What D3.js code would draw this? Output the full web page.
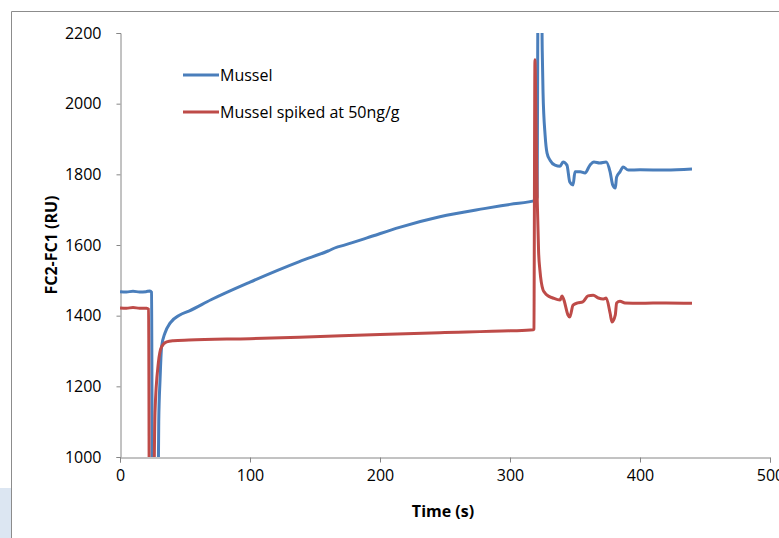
<!DOCTYPE html>
<html>
<head>
<meta charset="utf-8">
<script src="https://cdn.jsdelivr.net/npm/d3@7.9.0/dist/d3.min.js"></script>
<style>
  body { margin: 0; background: #fff; }
  svg { display: block; font-family: 'Open Sans', sans-serif; }
</style>
</head>
<body>
<svg id="chart" width="779" height="538"></svg>
<script>
// ====== DATA ======

const musselTime = [0, 5, 10, 15, 20, 23, 24.3, 25, 28.8, 29.8, 30.8, 32, 34.6, 38.5, 46, 53, 70, 100,
  138, 160, 167, 169, 190, 215, 246, 280, 300, 320, 320.8, 321.8, 323.8, 324.8, 325.4, 327, 328.5,
  330.8, 334.6, 338.5, 340.8, 343.8, 346, 348.5, 350, 354, 357.7, 361.5, 364.6, 369, 374, 377, 379,
  381, 382, 384.6, 387, 391, 400, 420, 440];
const musselValue = [1468, 1467, 1469, 1467, 1468, 1470, 1466, 700, 700, 1100, 1218, 1312, 1351, 1379,
  1402, 1413, 1445, 1495, 1553, 1583, 1594, 1596, 1620, 1650, 1680, 1703, 1715, 1727, 1735, 2500,
  2500, 2150, 2033, 1911, 1860, 1840, 1826, 1823, 1835, 1826, 1778, 1770, 1807, 1807, 1804, 1826,
  1835, 1832, 1835, 1807, 1770, 1761, 1792, 1807, 1821, 1812, 1813, 1812, 1815];

const spikedTime = [0, 5, 10, 15, 20.5, 22, 22.7, 25.3, 26.9, 29.5, 32, 35.9, 41, 53, 100, 138, 200,
  246, 300, 318, 318.4, 319.2, 320, 321, 322, 323, 325.4, 327, 328.5, 333, 338.5, 340, 341.5, 344.6,
  346, 348.5, 352, 356, 360, 364, 368, 371.5, 374, 377, 378.5, 381, 382, 384.6, 388.5, 400, 420, 440];
const spikedValue = [1422, 1421, 1423, 1421, 1421, 1418, 700, 700, 1125, 1266, 1312, 1326, 1329, 1331,
  1335, 1339, 1347, 1352, 1357, 1360, 1362, 2124, 1950, 1720, 1580, 1529, 1473, 1464, 1458, 1450,
  1444, 1456, 1444, 1402, 1396, 1430, 1436, 1439, 1456, 1458, 1450, 1447, 1450, 1407, 1382, 1402,
  1436, 1441, 1436, 1435, 1436, 1435];

const seriesNames = ['Mussel', 'Mussel spiked at 50ng/g'];
const seriesColors = ['#4a7ebb', '#be4b48'];
const xTicks = [0, 100, 200, 300, 400, 500];
const yTicks = [1000, 1200, 1400, 1600, 1800, 2000, 2200];

// ====== LAYOUT ======

const svg = d3.select('#chart');
const plot = { left: 120, right: 770, top: 33, bottom: 457 };
const axisColor = '#868686';

const x = d3.scaleLinear().domain([0, 500]).range([plot.left, plot.right]);
const y = d3.scaleLinear().domain([1000, 2200]).range([plot.bottom, plot.top]);

// outer frame (chart area border, cropped on the right/bottom)
svg.append('rect')
  .attr('x', 0).attr('y', 488).attr('width', 11).attr('height', 50)
  .attr('fill', '#dce6f2');
svg.append('path')
  .attr('d', 'M11.5,538 V11.5 H779')
  .attr('fill', 'none')
  .attr('stroke', '#8c8c8c')
  .attr('stroke-width', 1);

svg.append('clipPath').attr('id', 'plot-clip')
  .append('rect')
  .attr('x', plot.left).attr('y', plot.top)
  .attr('width', plot.right - plot.left).attr('height', plot.bottom - plot.top);

// ====== AXES ======

const xAxis = svg.append('g')
  .attr('transform', `translate(0,${plot.bottom + 0.5})`)
  .call(d3.axisBottom(x).tickValues(xTicks).tickSize(5).tickPadding(7).tickFormat(d3.format('d')));

const yAxis = svg.append('g')
  .attr('transform', `translate(${plot.left + 0.5},0)`)
  .call(d3.axisLeft(y).tickValues(yTicks).tickSize(4).tickPadding(15).tickFormat(d3.format('d')));

[xAxis, yAxis].forEach((g) => {
  g.select('.domain').attr('stroke', axisColor);
  g.selectAll('.tick line').attr('stroke', axisColor);
  g.selectAll('.tick text')
    .attr('fill', '#000')
    .style('font-size', '16px')
    .style('font-family', "'Open Sans', sans-serif");
});

svg.append('text')
  .attr('x', 443).attr('y', 517)
  .attr('text-anchor', 'middle')
  .style('font-size', '16px').style('font-weight', 'bold')
  .text('Time (s)');

svg.append('text')
  .attr('transform', 'translate(57,245) rotate(-90)')
  .attr('text-anchor', 'middle')
  .style('font-size', '16px').style('font-weight', 'bold')
  .text('FC2-FC1 (RU)');

// ====== LINES ======

const line = d3.line()
  .curve(d3.curveMonotoneX)
  .x((d) => x(d[0]))
  .y((d) => y(d[1]));

const series = [
  d3.zip(musselTime, musselValue),
  d3.zip(spikedTime, spikedValue),
];

svg.append('g')
  .attr('clip-path', 'url(#plot-clip)')
  .selectAll('path')
  .data(series)
  .join('path')
  .attr('d', line)
  .attr('fill', 'none')
  .attr('stroke', (d, i) => seriesColors[i])
  .attr('stroke-width', 3)
  .attr('stroke-linejoin', 'round');

// ====== LEGEND ======

const legend = svg.append('g')
  .selectAll('g')
  .data(seriesNames)
  .join('g')
  .attr('transform', (d, i) => `translate(183,${75 + i * 37})`);

legend.append('line')
  .attr('x1', 0).attr('x2', 36)
  .attr('stroke', (d, i) => seriesColors[i])
  .attr('stroke-width', 3);

legend.append('text')
  .attr('x', 37).attr('dy', '0.35em')
  .style('font-size', '16px')
  .text((d) => d);
</script>
</body>
</html>
